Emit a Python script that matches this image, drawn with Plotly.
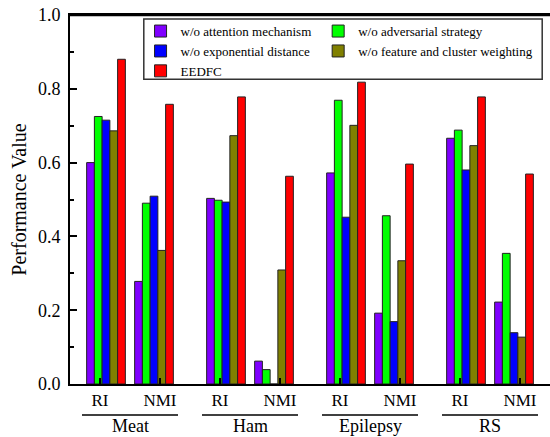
import plotly.graph_objects as go

datasets = ["Meat", "Ham", "Epilepsy", "RS"]
metrics = ["RI", "NMI"]
series_names = ["w/o attention mechanism", "w/o adversarial strategy",
                "w/o exponential distance", "w/o feature and cluster weighting", "EEDFC"]
colors = ["#7F00FF", "#00FF00", "#0000FF", "#808000", "#FF0000"]
legend_column = ["legend", "legend2", "legend", "legend2", "legend"]

# values ordered: Meat RI, Meat NMI, Ham RI, Ham NMI, Epilepsy RI, Epilepsy NMI, RS RI, RS NMI
attention = [0.600, 0.278, 0.503, 0.062, 0.572, 0.192, 0.666, 0.222]
adversarial = [0.725, 0.490, 0.498, 0.039, 0.769, 0.456, 0.688, 0.354]
exponential = [0.715, 0.509, 0.493, 0.0, 0.452, 0.169, 0.580, 0.139]
weighting = [0.686, 0.362, 0.673, 0.309, 0.701, 0.334, 0.646, 0.127]
eedfc = [0.880, 0.758, 0.778, 0.563, 0.818, 0.596, 0.778, 0.569]
series_values = [attention, adversarial, exponential, weighting, eedfc]

font_family = "Liberation Serif, Times New Roman, serif"
n_cat = len(datasets) * len(metrics)
tick_labels = metrics * len(datasets)

# cluster centres pulled slightly toward each dataset's centre
shift = 0.1
cluster_x = [i + (shift if i % 2 == 0 else -shift) for i in range(n_cat)]
bar_w = 0.129
n_s = len(series_names)

fig = go.Figure()
for k, (name, vals, col, lg) in enumerate(zip(series_names, series_values, colors, legend_column)):
    fig.add_trace(go.Bar(
        x=cluster_x, y=vals, name=name, legend=lg,
        width=bar_w, offset=-bar_w * n_s / 2 + k * bar_w,
        marker=dict(color=col, line=dict(color="#222222", width=1)),
    ))

annotations = []
shapes = []
for g, ds in enumerate(datasets):
    cx = 2 * g + 0.5
    annotations.append(dict(x=cx, y=-0.114, xref="x", yref="paper", text=ds,
                            showarrow=False, yanchor="middle",
                            font=dict(family=font_family, size=18, color="black")))
    shapes.append(dict(type="line", xref="x", yref="paper",
                       x0=2 * g - 0.3, x1=2 * g + 1.3, y0=-0.084, y1=-0.084,
                       line=dict(color="black", width=1.5)))
# top frame line (drawn in data x-coordinates spanning the full axis range)
shapes.append(dict(type="line", xref="x", yref="y", x0=-0.5, x1=7.5, y0=1.0, y1=1.0,
                   line=dict(color="black", width=2.5), layer="above"))
# legend frame
shapes.append(dict(type="rect", xref="x", yref="y", x0=0.73, x1=7.37,
                   y0=0.826, y1=0.989, fillcolor="white",
                   line=dict(color="#333333", width=1.5), layer="above"))

legend_common = dict(orientation="v", yanchor="top", xanchor="left",
                     itemwidth=30, borderwidth=0, bgcolor="rgba(0,0,0,0)",
                     font=dict(family=font_family, size=13, color="black"),
                     traceorder="normal", tracegroupgap=0)

fig.update_layout(
    width=550, height=437,
    margin=dict(l=70, r=0, t=15, b=53, autoexpand=False),
    plot_bgcolor="white", paper_bgcolor="white",
    barmode="overlay",
    font=dict(family=font_family, color="black"),
    xaxis=dict(range=[-0.5, 7.5], tickvals=list(range(n_cat)), ticktext=tick_labels,
               ticks="inside", ticklen=6, tickwidth=1.5, tickcolor="black",
               showline=True, linecolor="black", linewidth=2, mirror=True,
               showgrid=False, zeroline=False, automargin=False,
               tickfont=dict(family=font_family, size=17, color="black")),
    yaxis=dict(range=[0, 1.0], tickvals=[0, 0.2, 0.4, 0.6, 0.8, 1.0], tickformat=".1f",
               ticks="inside", ticklen=7, tickwidth=1.5, tickcolor="black",
               minor=dict(dtick=0.1, ticks="inside", ticklen=4, tickwidth=1.5, tickcolor="black"),
               showline=True, linecolor="black", linewidth=2,
               showgrid=False, zeroline=False, ticklabelstandoff=4, automargin=False,
               tickfont=dict(family=font_family, size=18, color="black"),
               title=dict(text="Performance Value", standoff=6,
                          font=dict(family=font_family, size=20, color="black"))),
    legend=dict(x=0.147, y=0.997, **legend_common),
    legend2=dict(x=0.517, y=0.997, **legend_common),
    annotations=annotations, shapes=shapes,
)

fig.write_html("out.html", config={"displayModeBar": False},
               post_script="document.body.style.margin='0';document.body.style.overflow='hidden';")
